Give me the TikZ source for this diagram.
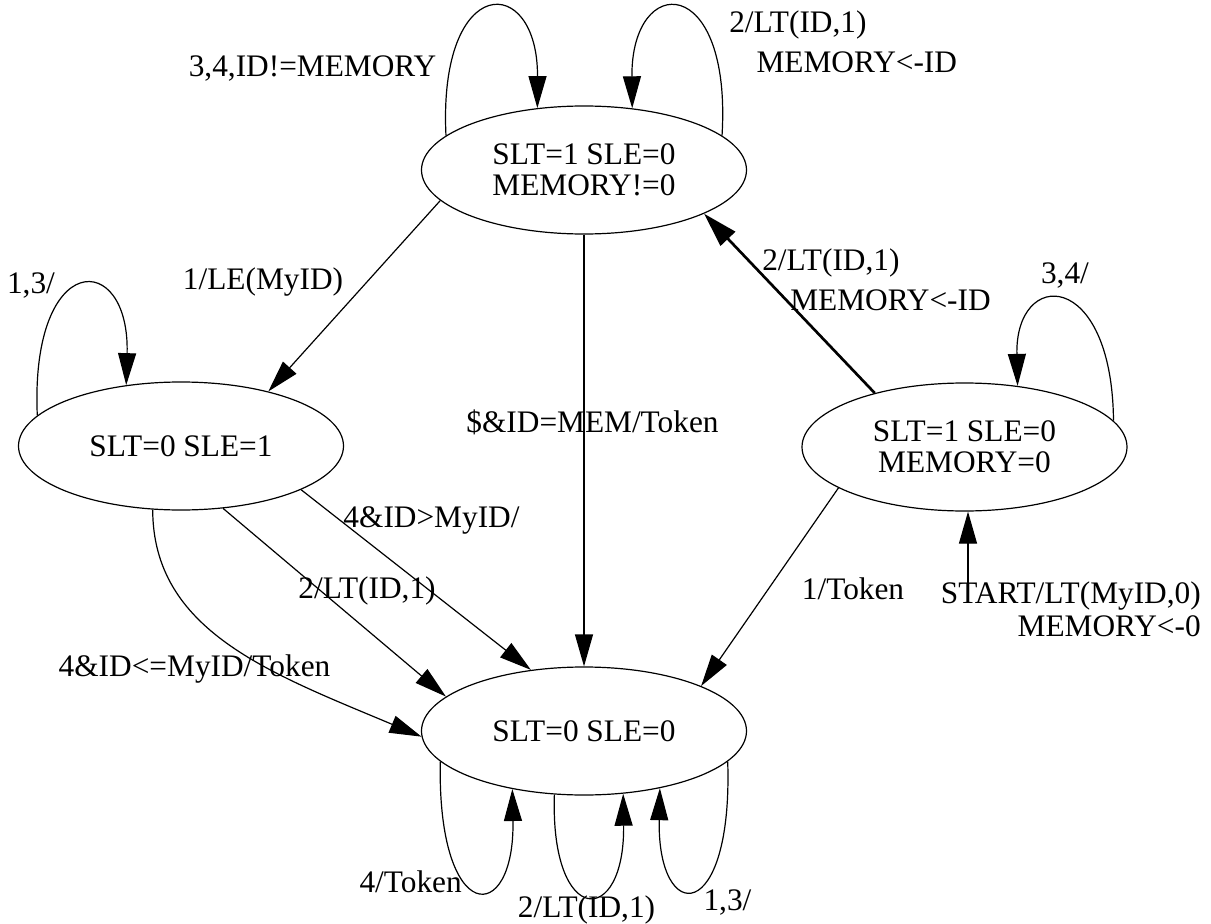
\documentclass[tikz,border=0pt]{standalone}
\usepackage{fontspec}
\setmainfont{Liberation Serif}
\usetikzlibrary{shapes.geometric,arrows.meta}
\begin{document}
\begin{tikzpicture}[x=0.75pt,y=-0.75pt,
  state/.style={draw,ellipse,line width=0.9pt,minimum width=243.75pt,minimum height=96pt,inner sep=0pt,align=center,font=\fontsize{23.5}{23.25}\selectfont},
  lbl/.style={inner sep=0pt,anchor=base,font=\fontsize{23.5}{28}\selectfont},
  lbltwo/.style={inner sep=0pt,font=\fontsize{23.5}{30}\selectfont},
  conn/.style={draw,line width=0.9pt,-{Triangle[length=24pt,width=13.5pt]}},
  thickconn/.style={draw,line width=2pt,-{Triangle[length=26pt,width=15pt]}}]
\useasboundingbox (0,0) rectangle (1211,924);

% states
\node[state] (T) at (584,170) {SLT=1 SLE=0\\MEMORY!=0};
\node[state] (L) at (181,446) {SLT=0 SLE=1};
\node[state] (R) at (964.5,447) {SLT=1 SLE=0\\MEMORY=0};
\node[state] (B) at (584,731) {SLT=0 SLE=0};

% labels
\node[lbl] (l1) at (312.5,77) {3,4,ID!=MEMORY};
\node[lbltwo,anchor=north west,align=left] (l2) at (729,8.5) {\rule{0pt}{17.625pt}2/LT(ID,1)\\\hspace*{20.5pt}MEMORY<-ID};
\node[lbl] (l3) at (263,289) {1/LE(MyID)};
\node[lbl] (l4) at (592.5,432) {\$\&ID=MEM/Token};
\node[lbltwo,anchor=north west,align=left] (l5) at (762,246.5) {\rule{0pt}{17.625pt}2/LT(ID,1)\\\hspace*{21pt}MEMORY<-ID};
\node[lbl] (l6) at (1065,283) {3,4/};
\node[lbl] (l7) at (31,293) {1,3/};
\node[lbl] (l8) at (431.5,527) {4\&ID>MyID/};
\node[lbl] (l9) at (367,598) {2/LT(ID,1)};
\node[lbl] (l10) at (194.5,676) {4\&ID<=MyID/Token};
\node[lbl] (l11) at (853,599) {1/Token};
\node[inner sep=0pt,font=\fontsize{23.5}{24.75}\selectfont,anchor=north east,align=right] (l12) at (1201,579.5) {\rule{0pt}{17.625pt}START/LT(MyID,0)\\MEMORY<-0};
\node[lbl,anchor=base east] (l13) at (462,892) {4/Token};
\node[lbl] (l14) at (586.5,917) {2/LT(ID,1)};
\node[lbl] (l15) at (727.5,910) {1,3/};

% connectors
\draw[conn] (T.166) .. controls (438,-28) and (538,-28) .. (T.127);
\draw[conn] (T.14) .. controls (732,-28) and (631,-28) .. (T.52);
\draw[conn] (T.192) -- (L.32.5);
\draw[conn] (T.south) -- (B.north);
\draw[thickconn] (R.149) -- (T.340);
\draw[conn] (R.10.5) .. controls (1112,268) and (1015,268) .. (R.49);
\draw[conn] (L.168) .. controls (30,249) and (130,249) .. (L.132);
\draw[conn] (L.246) .. controls (153,631) and (270,673) .. (B.182);
\draw[conn] (L.304) -- (B.166.5);
\draw[conn] (L.340.5) -- (B.131.6);
\draw[conn] (R.198.6) -- (B.21.6);
\coordinate (st) at (968,585);
\draw[conn] (st) -- (st |- R.south);
\draw[conn] (B.192) .. controls (437,927) and (515,927) .. (B.219);
\draw[conn] (B.245) .. controls (550,928) and (625,928) .. (B.302.6);
\draw[conn] (B.348.8) .. controls (733,926) and (657,926) .. (B.323);
\end{tikzpicture}
\end{document}
